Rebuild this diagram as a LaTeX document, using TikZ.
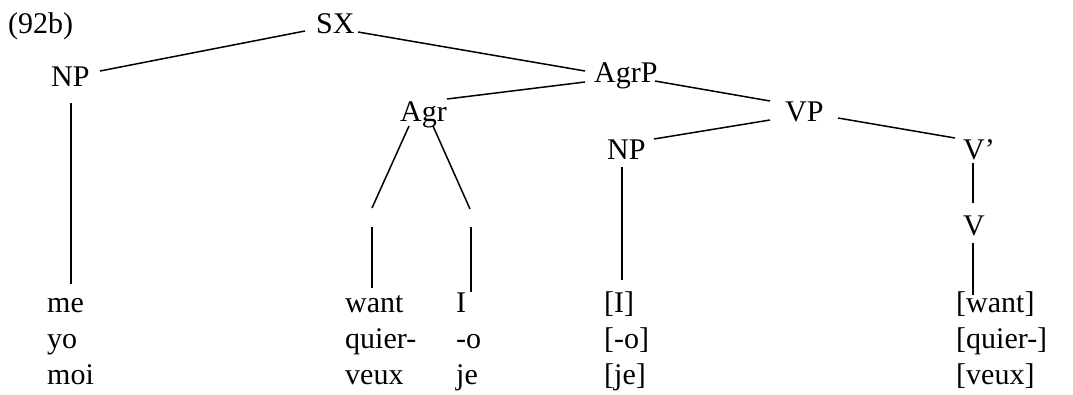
\documentclass[tikz,border=0pt]{standalone}
\usepackage{fontspec}
\setmainfont{Liberation Serif}
\usetikzlibrary{calc}
\begin{document}
\begin{tikzpicture}[x=1pt,y=-1pt,
  lbl/.style={anchor=base west,inner sep=0pt,font=\fontsize{30}{36}\selectfont},
  edge/.style={line width=1.5pt}]
\useasboundingbox (0,0) rectangle (1073,394);
% labels
\node[lbl] (ex) at (8,33) {(92b)};
\node[lbl] (SX) at (316,33) {SX};
\node[lbl] (NPa) at (51,86) {NP};
\node[lbl] (AgrP) at (594,82) {AgrP};
\node[lbl] (Agr) at (400,121) {Agr};
\node[lbl] (VP) at (785,121) {VP};
\node[lbl] (NPb) at (607,159) {NP};
\node[lbl] (Vbar) at (963,159) {V’};
\node[lbl] (V) at (963,235) {V};
% words
\node[lbl] (me) at (47,312) {me};
\node[lbl] (yo) at (47,348) {yo};
\node[lbl] (moi) at (47,384) {moi};
\node[lbl] (want) at (345,312) {want};
\node[lbl] (quier) at (345,348) {quier-};
\node[lbl] (veux) at (345,384) {veux};
\node[lbl] (I) at (456,312) {I};
\node[lbl] (o) at (456,348) {-o};
\node[lbl] (je) at (456,384) {je};
\node[lbl] (bI) at (604,312) {[I]};
\node[lbl] (bo) at (604,348) {[-o]};
\node[lbl] (bje) at (604,384) {[je]};
\node[lbl] (bwant) at (956,312) {[want]};
\node[lbl] (bquier) at (956,348) {[quier-]};
\node[lbl] (bveux) at (956,384) {[veux]};
% free ends of the broken Agr branches
\coordinate (aL) at (372,208);
\coordinate (aR) at (470,209);
\coordinate (aLb) at (372,227);
\coordinate (aRb) at (471,227);
% connectors
\draw[edge] ($(SX.base west)+(-11,-2)$) -- ($(NPa.base west)+(49,-15)$);
\draw[edge] ($(SX.base west)+(42,-1)$) -- ($(AgrP.base west)+(-9,-11)$);
\draw[edge] ($(AgrP.base west)+(-9,0)$) -- ($(Agr.base west)+(47,-22)$);
\draw[edge] ($(AgrP.base west)+(61,-1)$) -- ($(VP.base west)+(-15,-20)$);
\draw[edge] ($(VP.base west)+(-15,-1)$) -- ($(NPb.base west)+(47,-20)$);
\draw[edge] ($(VP.base west)+(53,-3)$) -- ($(Vbar.base west)+(-8,-21)$);
\draw[edge] ($(Agr.base west)+(9,5)$) -- (aL);
\draw[edge] ($(Agr.base west)+(33,5)$) -- (aR);
\draw[edge] (aLb) -- ($(want.base west)+(27,-24)$);
\draw[edge] (aRb) -- ($(I.base west)+(15,-20)$);
\draw[edge] ($(NPa.base west)+(20,17)$) -- ($(me.base west)+(24,-28)$);
\draw[edge] ($(NPb.base west)+(15,8)$) -- ($(bI.base west)+(18,-32)$);
\draw[edge] ($(Vbar.base west)+(10,4)$) -- ($(V.base west)+(10,-32)$);
\draw[edge] ($(V.base west)+(10,8)$) -- ($(bwant.base west)+(17,-17)$);
\end{tikzpicture}
\end{document}
